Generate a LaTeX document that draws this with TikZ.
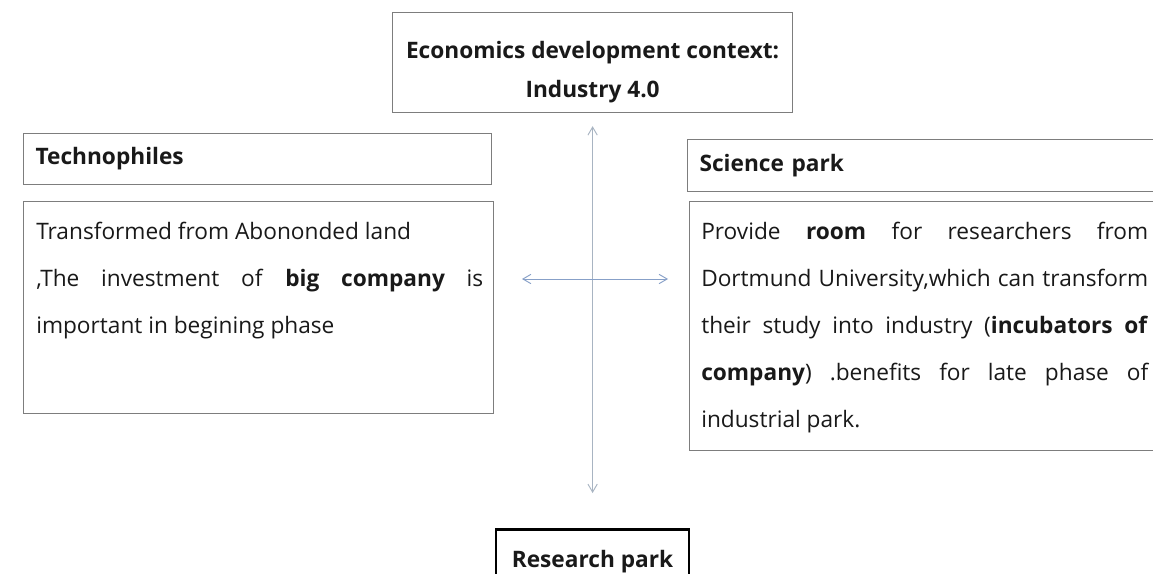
\documentclass[tikz,border=0pt]{standalone}
\usepackage{fontspec}
\setmainfont{Open Sans}
\usetikzlibrary{arrows.meta}
\definecolor{boxgray}{RGB}{125,125,125}
\definecolor{arrblue}{RGB}{135,160,200}
\definecolor{vgray}{RGB}{168,180,194}
\definecolor{ink}{RGB}{25,25,25}
\tikzset{
  hdrbox/.style={draw=boxgray, line width=0.9pt, anchor=north west, inner xsep=9pt,
    inner ysep=0pt, align=left, text=ink, font=\bfseries\fontsize{17}{20}\selectfont},
  bodybox/.style={draw=boxgray, line width=0.9pt, anchor=north west, inner sep=0pt},
  bodytext/.style={anchor=north west, inner sep=0pt, text width=335.25pt, align=justify,
    text=ink, font=\fontsize{17}{35.25}\selectfont},
  linkarrow/.style={line width=0.7pt, {Straight Barb[length=6pt,width=7pt]}-{Straight Barb[length=6pt,width=7pt]}}
}
\hbadness=10000
\begin{document}
\begin{tikzpicture}[x=0.75pt,y=-0.75pt]
  \clip (0,0) rectangle (1153,574);
  \fill[white] (0,0) rectangle (1153,574);
  % context box on top
  \node[draw=boxgray, line width=0.9pt, anchor=north west, inner xsep=0pt, inner ysep=0pt,
    minimum width=300pt, align=center, text=ink, font=\bfseries\fontsize{17}{29.25}\selectfont]
    (ctx) at (392,12) {\rule{0pt}{34.5pt}Economics development context:\\Industry 4.0\rule[-11.25pt]{0pt}{11.25pt}};
  % left side
  \node[hdrbox, text width=333pt, minimum height=38.25pt] (techhdr) at (23,133) {Technophiles};
  \node[bodybox, minimum width=352.5pt, minimum height=159pt] (techbody) at (23,201) {};
  \node[bodytext] (techtext) at (36,222) {\rule{0pt}{12.75pt}Transformed from Abononded land\\
    ,The investment of \textbf{big company} is\linebreak important in begining phase};
  % right side
  \node[hdrbox, text width=344.25pt, minimum height=39pt] (scihdr) at (687,139) {Science park};
  \node[bodybox, minimum width=360.75pt, minimum height=186.75pt] (scibody) at (689,201) {};
  \node[bodytext] (scitext) at (701,222) {\rule{0pt}{12.75pt}Provide \textbf{room} for researchers from\linebreak
    Dortmund University,which can transform\linebreak their study into industry (\textbf{incubators of}\linebreak
    \textbf{company}) .benefits for late phase of\linebreak industrial park.};
  % bottom
  \node[draw=black, line width=2.2pt, anchor=north, minimum width=144.75pt, minimum height=48pt,
    text=ink, font=\bfseries\fontsize{17}{20}\selectfont] (rp) at (592.5,528) {Research park};
  % arrows
  \coordinate (hl) at (522,279);
  \coordinate (hr) at (668,279);
  \draw[linkarrow, draw=vgray, shorten <=9.75pt, shorten >=26.25pt] (ctx.south) -- (ctx.south |- rp.north);
  \draw[linkarrow, draw=arrblue] (hl) -- (hr);
\end{tikzpicture}
\end{document}
